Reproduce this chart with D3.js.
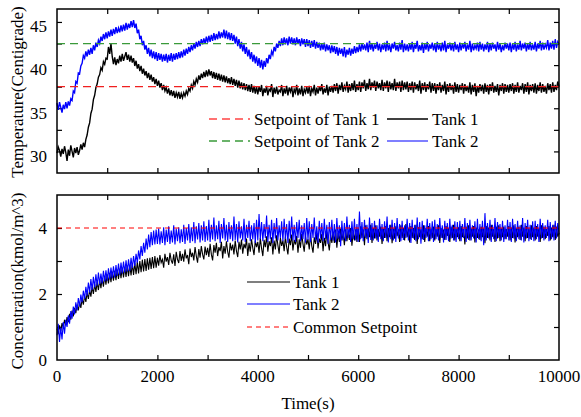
<!DOCTYPE html>
<html>
<head>
<meta charset="utf-8">
<script src="https://cdn.jsdelivr.net/npm/d3@7"></script>
<style>
  body { margin: 0; background: #fff; }
  svg text { font-family: "Liberation Serif", "Times New Roman", Times, serif; }
</style>
</head>
<body>
<div id="chart"></div>
<script>
// sampled every 25 s, 0..10000 (20 samples per row = 500 s)
var time = d3.range(0, 10001, 25);

var tempTank1 = [
  30.3, 31.0, 30.6, 29.9, 30.8, 30.2, 31.1, 30.4, 29.4, 30.7, 30.0, 31.2, 30.5, 29.8, 30.9, 30.3, 31.0, 30.1, 30.6, 31.3,
  30.7, 31.5, 31.0, 31.9, 32.4, 33.3, 33.8, 34.9, 35.4, 36.5, 37.0, 37.9, 38.3, 39.1, 39.4, 40.2, 39.9, 40.9, 40.6, 41.3,
  41.2, 42.6, 41.8, 43.0, 41.5, 40.6, 41.4, 40.5, 41.2, 40.7, 41.6, 40.9, 41.8, 41.0, 41.5, 42.0, 41.1, 41.7, 40.9, 41.6,
  40.8, 41.3, 40.4, 41.0, 40.1, 40.6, 39.8, 40.4, 39.5, 40.1, 39.3, 39.8, 39.0, 39.6, 38.8, 39.4, 38.6, 39.1, 38.3, 38.9,
  38.1, 38.7, 37.9, 38.4, 37.6, 38.2, 37.5, 37.9, 37.2, 37.8, 37.0, 37.6, 36.9, 37.5, 36.7, 37.3, 36.8, 37.4, 36.6, 37.2,
  36.7, 37.3, 36.9, 37.5, 37.1, 37.8, 37.5, 38.2, 37.8, 38.6, 38.2, 38.9, 38.5, 39.3, 38.8, 39.5, 39.0, 39.7, 39.1, 39.9,
  39.2, 40.0, 39.3, 39.8, 39.0, 39.7, 38.9, 39.6, 38.8, 39.5, 38.7, 39.4, 38.6, 39.3, 38.5, 39.2, 38.4, 39.0, 38.3, 39.1,
  38.2, 38.9, 38.1, 38.8, 37.9, 38.7, 37.8, 38.5, 37.7, 38.4, 37.6, 38.3, 37.5, 38.2, 37.4, 38.3, 37.3, 38.1, 37.2, 38.0,
  37.1, 38.0, 37.4, 38.2, 36.9, 37.8, 37.3, 38.1, 37.0, 37.7, 37.5, 38.3, 36.8, 37.9, 37.2, 38.0, 37.1, 37.6, 37.4, 38.2,
  36.9, 37.8, 37.2, 38.1, 37.0, 37.9, 37.4, 38.0, 36.8, 37.7, 37.3, 38.2, 37.0, 37.8, 37.1, 38.1, 36.9, 37.7, 37.3, 38.0,
  37.2, 38.1, 36.9, 37.8, 37.4, 38.2, 37.0, 37.9, 37.2, 38.0, 37.5, 38.3, 37.1, 37.8, 37.3, 38.2, 37.0, 38.0, 37.4, 38.1,
  37.3, 38.3, 37.5, 38.4, 37.2, 38.2, 37.6, 38.5, 37.4, 38.1, 37.7, 38.6, 37.3, 38.3, 37.5, 38.4, 37.6, 38.7, 37.4, 38.3,
  37.6, 38.6, 37.4, 38.5, 37.8, 38.8, 37.5, 38.4, 37.7, 38.9, 37.6, 38.5, 37.9, 38.7, 37.5, 38.6, 37.8, 38.4, 37.6, 38.8,
  37.5, 38.5, 37.8, 38.7, 37.4, 38.6, 37.7, 38.4, 37.6, 38.9, 37.5, 38.5, 37.8, 38.6, 37.4, 38.7, 37.6, 38.5, 37.7, 38.6,
  37.4, 38.4, 37.6, 38.6, 37.3, 38.5, 37.7, 38.3, 37.5, 38.7, 37.2, 38.4, 37.6, 38.5, 37.4, 38.3, 37.7, 38.6, 37.3, 38.4,
  37.5, 38.4, 37.2, 38.3, 37.6, 38.5, 37.3, 38.2, 37.5, 38.6, 37.1, 38.3, 37.4, 38.4, 37.6, 38.2, 37.2, 38.5, 37.4, 38.3,
  37.3, 38.2, 37.6, 38.4, 37.2, 38.3, 37.5, 38.1, 37.3, 38.5, 37.1, 38.2, 37.4, 38.4, 36.9, 38.1, 37.3, 38.3, 37.5, 38.2,
  37.2, 38.4, 37.4, 38.2, 37.1, 38.3, 37.5, 38.5, 37.3, 38.1, 37.4, 38.3, 37.0, 38.2, 37.5, 38.4, 37.2, 38.3, 37.4, 38.2,
  37.3, 38.3, 37.5, 38.4, 37.2, 38.2, 37.4, 38.5, 37.3, 38.1, 37.6, 38.4, 37.2, 38.3, 37.4, 38.5, 37.1, 38.2, 37.5, 38.3,
  37.3, 38.4, 37.2, 38.2, 37.5, 38.5, 37.3, 38.3, 37.4, 38.1, 37.2, 38.4, 37.6, 38.3, 37.3, 38.5, 37.4, 38.2, 37.6, 38.6,
  38.0
];

var tempTank2 = [
  36.1, 35.3, 36.2, 35.6, 35.0, 35.9, 35.4, 36.2, 35.5, 36.3, 35.8, 36.6, 36.4, 37.5, 37.3, 38.6, 38.4, 39.6, 39.5, 40.4,
  40.7, 41.6, 41.3, 42.1, 41.5, 42.3, 41.7, 42.5, 41.8, 42.8, 42.2, 43.1, 42.6, 43.4, 43.0, 43.8, 43.3, 44.1, 43.5, 44.3,
  43.6, 44.4, 43.8, 44.6, 43.9, 44.7, 44.1, 44.9, 44.2, 44.8, 44.3, 45.1, 44.4, 45.2, 44.5, 45.4, 44.6, 45.3, 44.8, 45.6,
  44.9, 45.7, 44.8, 45.3, 44.2, 44.6, 43.5, 43.9, 42.8, 43.3, 42.3, 42.8, 41.8, 42.5, 41.5, 42.3, 41.3, 42.1, 41.2, 42.0,
  41.0, 41.9, 41.1, 41.8, 40.9, 41.7, 41.0, 41.8, 40.8, 41.7, 41.0, 41.9, 40.9, 41.8, 41.1, 41.9, 41.2, 42.0, 41.3, 42.1,
  41.4, 42.3, 41.6, 42.4, 41.8, 42.6, 42.0, 42.8, 42.2, 43.0, 42.4, 43.2, 42.6, 43.3, 42.7, 43.5, 42.9, 43.6, 43.0, 43.8,
  43.1, 43.9, 43.2, 44.0, 43.3, 44.2, 43.4, 44.1, 43.5, 44.4, 43.6, 44.3, 43.7, 44.6, 43.6, 44.5, 43.5, 44.3, 43.4, 44.2,
  43.3, 44.0, 43.0, 43.8, 42.7, 43.5, 42.4, 43.2, 42.1, 42.9, 41.8, 42.6, 41.5, 42.3, 41.2, 42.0, 40.9, 41.7, 40.7, 41.5,
  40.4, 41.3, 40.2, 41.1, 40.0, 41.0, 40.3, 41.3, 40.7, 41.7, 41.2, 42.1, 41.7, 42.6, 42.1, 43.0, 42.5, 43.3, 42.7, 43.6,
  42.8, 43.7, 42.9, 43.6, 42.8, 43.8, 43.0, 43.7, 42.9, 43.6, 42.8, 43.7, 43.0, 43.5, 42.7, 43.6, 42.9, 43.5, 42.6, 43.5,
  42.7, 43.4, 42.5, 43.3, 42.6, 43.4, 42.4, 43.2, 42.5, 43.1, 42.2, 43.0, 42.3, 43.1, 42.1, 42.9, 42.2, 42.8, 41.9, 42.8,
  42.0, 42.7, 41.8, 42.6, 41.6, 42.5, 41.8, 42.4, 41.5, 42.6, 41.4, 42.3, 41.7, 42.5, 41.6, 42.4, 41.8, 42.7, 41.9, 42.6,
  42.0, 42.9, 42.1, 43.0, 42.3, 42.9, 42.2, 43.1, 42.0, 43.3, 42.3, 43.0, 42.1, 42.9, 42.4, 43.2, 42.2, 43.0, 42.0, 42.9,
  42.3, 43.1, 42.1, 43.3, 42.2, 42.9, 42.0, 43.0, 42.4, 43.2, 42.2, 42.8, 42.1, 43.1, 42.3, 43.4, 42.0, 43.0, 42.2, 42.9,
  42.1, 43.0, 42.3, 43.2, 42.0, 42.9, 42.4, 43.3, 42.1, 42.8, 42.2, 43.1, 41.9, 43.0, 42.3, 43.2, 42.1, 42.9, 42.4, 43.1,
  42.2, 43.0, 42.0, 43.2, 42.3, 42.9, 42.1, 43.1, 42.2, 43.3, 42.0, 42.9, 42.4, 43.1, 42.2, 43.0, 42.1, 43.2, 42.3, 42.9,
  42.0, 43.1, 42.2, 43.0, 42.4, 43.2, 42.1, 42.9, 42.3, 43.3, 42.0, 43.0, 42.2, 42.8, 42.4, 43.1, 42.1, 43.2, 42.3, 43.0,
  42.1, 42.9, 42.3, 43.2, 42.0, 43.0, 42.2, 43.1, 42.4, 42.9, 42.1, 43.2, 42.3, 43.0, 42.0, 42.8, 42.2, 43.1, 42.4, 43.0,
  42.2, 43.1, 42.0, 43.0, 42.3, 43.2, 42.1, 42.9, 42.3, 43.3, 42.2, 43.0, 42.4, 43.1, 42.1, 43.0, 42.3, 43.2, 42.2, 42.9,
  42.3, 43.2, 42.1, 43.0, 42.4, 43.3, 42.2, 43.1, 42.3, 42.9, 42.5, 43.4, 42.2, 43.1, 42.4, 43.3, 42.3, 43.5, 42.5, 43.2,
  42.9
];

var concTank1 = [
  0.95, 0.78, 1.05, 0.88, 1.12, 0.98, 1.22, 1.05, 1.30, 1.15, 1.40, 1.22, 1.50, 1.32, 1.58, 1.42, 1.68, 1.50, 1.75, 1.58,
  1.85, 1.68, 1.95, 1.76, 2.04, 1.85, 2.12, 1.92, 2.22, 2.00, 2.30, 2.06, 2.36, 2.12, 2.42, 2.18, 2.48, 2.22, 2.55, 2.28,
  2.60, 2.32, 2.64, 2.36, 2.68, 2.40, 2.70, 2.42, 2.74, 2.46, 2.76, 2.48, 2.80, 2.50, 2.82, 2.52, 2.86, 2.54, 2.88, 2.56,
  2.92, 2.58, 2.94, 2.60, 2.98, 2.62, 3.00, 2.66, 3.04, 2.68, 3.06, 2.70, 3.08, 2.74, 3.10, 2.76, 3.12, 2.78, 3.15, 2.80,
  3.10, 2.86, 3.18, 2.95, 3.05, 2.80, 3.22, 2.98, 3.12, 2.88, 3.25, 3.02, 2.92, 3.20, 2.85, 3.28, 3.05, 2.94, 3.30, 3.00,
  3.22, 2.98, 3.35, 3.08, 3.18, 2.90, 3.38, 3.12, 3.25, 3.02, 3.42, 3.15, 2.95, 3.36, 3.10, 3.45, 3.20, 3.05, 3.44, 3.18,
  3.40, 3.12, 3.52, 3.20, 3.02, 3.48, 3.25, 3.55, 3.15, 3.42, 3.30, 3.58, 3.08, 3.45, 3.22, 3.60, 3.28, 3.10, 3.55, 3.32,
  3.50, 3.20, 3.62, 3.30, 3.12, 3.58, 3.35, 3.65, 3.22, 3.52, 3.38, 3.68, 3.15, 3.55, 3.28, 3.66, 3.40, 3.18, 3.62, 3.42,
  3.58, 3.25, 3.70, 3.38, 3.15, 3.64, 3.42, 3.75, 3.28, 3.60, 3.45, 3.72, 3.20, 3.62, 3.35, 3.78, 3.48, 3.22, 3.70, 3.46,
  3.62, 3.30, 3.74, 3.42, 3.20, 3.68, 3.48, 3.80, 3.32, 3.64, 3.50, 3.76, 3.25, 3.66, 3.40, 3.82, 3.52, 3.28, 3.75, 3.50,
  3.66, 3.35, 3.80, 3.46, 3.25, 3.72, 3.52, 3.85, 3.38, 3.68, 3.55, 3.82, 3.30, 3.70, 3.45, 3.88, 3.56, 3.32, 3.80, 3.55,
  3.88, 3.55, 3.95, 3.40, 3.86, 3.58, 3.98, 3.62, 3.84, 3.48, 3.96, 3.60, 3.90, 3.64, 4.00, 3.46, 3.88, 3.62, 3.96, 3.58,
  3.98, 3.58, 4.05, 3.70, 3.96, 3.48, 4.08, 3.66, 3.99, 3.72, 4.10, 3.55, 4.00, 3.68, 4.08, 3.62, 3.97, 3.74, 4.04, 3.52,
  3.98, 3.70, 4.06, 3.60, 4.00, 3.72, 4.10, 3.54, 3.98, 3.68, 4.05, 3.75, 3.96, 3.58, 4.08, 3.70, 4.00, 3.62, 4.12, 3.72,
  3.99, 3.56, 4.06, 3.70, 4.00, 3.64, 4.10, 3.52, 4.02, 3.72, 3.96, 3.66, 4.08, 3.58, 4.00, 3.74, 4.06, 3.60, 3.98, 3.70,
  4.04, 3.62, 3.97, 3.74, 4.08, 3.55, 4.00, 3.70, 3.95, 3.64, 4.06, 3.76, 3.99, 3.58, 4.04, 3.70, 4.10, 3.62, 3.98, 3.72,
  4.02, 3.60, 4.06, 3.72, 3.97, 3.50, 4.04, 3.68, 4.08, 3.62, 3.99, 3.74, 4.06, 3.56, 4.01, 3.70, 3.96, 3.64, 4.04, 3.72,
  3.99, 3.54, 4.06, 3.70, 4.01, 3.62, 4.10, 3.74, 3.97, 3.58, 4.04, 3.68, 4.08, 3.60, 3.99, 3.72, 4.04, 3.66, 3.97, 3.74,
  4.06, 3.62, 4.01, 3.70, 4.08, 3.56, 3.99, 3.72, 4.04, 3.64, 4.10, 3.74, 4.01, 3.60, 4.06, 3.70, 3.99, 3.66, 4.08, 3.72,
  4.01, 3.62, 4.06, 3.74, 3.99, 3.58, 4.08, 3.70, 4.04, 3.66, 3.97, 3.76, 4.06, 3.62, 4.01, 3.72, 4.10, 3.64, 4.04, 3.74,
  3.85
];

var concTank2 = [
  0.75, 1.10, 0.55, 0.98, 0.62, 1.15, 0.80, 1.22, 1.00, 1.35, 1.10, 1.48, 1.25, 1.62, 1.38, 1.75, 1.50, 1.88, 1.62, 1.98,
  1.75, 2.10, 1.85, 2.22, 1.95, 2.35, 2.05, 2.45, 2.12, 2.52, 2.20, 2.60, 2.25, 2.65, 2.30, 2.62, 2.32, 2.70, 2.38, 2.72,
  2.40, 2.78, 2.44, 2.80, 2.48, 2.84, 2.50, 2.88, 2.55, 2.92, 2.58, 2.95, 2.62, 2.98, 2.65, 3.02, 2.68, 3.05, 2.70, 3.10,
  2.78, 3.15, 2.85, 3.22, 2.95, 3.32, 3.05, 3.45, 3.15, 3.55, 3.25, 3.68, 3.35, 3.80, 3.42, 3.88, 3.48, 3.92, 3.50, 3.95,
  3.52, 3.98, 3.50, 3.90, 3.55, 4.02, 3.48, 3.95, 3.58, 4.05, 3.52, 3.92, 3.56, 4.08, 3.50, 3.98, 3.60, 4.02, 3.54, 3.96,
  3.58, 4.10, 3.52, 4.00, 3.62, 4.12, 3.55, 4.02, 3.60, 4.18, 3.54, 4.05, 3.65, 4.15, 3.56, 4.08, 3.62, 4.20, 3.58, 4.06,
  3.62, 4.25, 3.58, 4.10, 3.65, 4.32, 3.60, 4.08, 3.66, 4.22, 3.55, 4.12, 3.68, 4.30, 3.62, 4.10, 3.58, 4.18, 3.66, 4.08,
  3.60, 4.35, 3.64, 4.12, 3.56, 4.20, 3.68, 4.05, 3.62, 4.28, 3.58, 4.10, 3.70, 4.22, 3.60, 4.08, 3.65, 4.15, 3.55, 4.25,
  3.62, 4.42, 3.66, 4.18, 3.60, 4.12, 3.70, 4.38, 3.58, 4.10, 3.66, 4.25, 3.55, 4.15, 3.68, 4.30, 3.62, 4.08, 3.70, 4.20,
  3.60, 4.28, 3.66, 4.12, 3.55, 4.22, 3.68, 4.35, 3.62, 4.10, 3.58, 4.18, 3.70, 4.25, 3.60, 4.08, 3.66, 4.15, 3.56, 4.30,
  3.64, 4.20, 3.58, 4.12, 3.70, 4.32, 3.62, 4.05, 3.55, 4.22, 3.68, 4.15, 3.60, 4.28, 3.66, 4.10, 3.52, 4.18, 3.64, 4.25,
  3.62, 4.12, 3.56, 4.30, 3.68, 4.08, 3.45, 4.22, 3.64, 4.15, 3.60, 4.35, 3.70, 4.10, 3.58, 4.20, 3.66, 4.28, 3.62, 4.12,
  3.58, 4.50, 3.66, 4.18, 3.60, 4.25, 3.70, 4.10, 3.55, 4.32, 3.64, 4.15, 3.62, 4.22, 3.68, 4.08, 3.58, 4.28, 3.66, 4.12,
  3.60, 4.20, 3.70, 4.35, 3.56, 4.10, 3.66, 4.25, 3.62, 4.15, 3.58, 4.30, 3.68, 4.12, 3.60, 4.22, 3.64, 4.08, 3.70, 4.28,
  3.62, 4.15, 3.55, 4.25, 3.68, 4.10, 3.60, 4.32, 3.66, 4.18, 3.52, 4.22, 3.64, 4.08, 3.70, 4.28, 3.60, 4.15, 3.66, 4.20,
  3.58, 4.25, 3.66, 4.12, 3.62, 4.30, 3.70, 4.08, 3.56, 4.22, 3.64, 4.15, 3.60, 4.28, 3.68, 4.10, 3.62, 4.20, 3.58, 4.18,
  3.66, 4.22, 3.60, 4.12, 3.70, 4.30, 3.58, 4.15, 3.64, 4.25, 3.62, 4.08, 3.68, 4.20, 3.56, 4.28, 3.66, 4.12, 3.60, 4.22,
  3.48, 4.45, 3.62, 4.15, 3.68, 4.25, 3.58, 4.10, 3.66, 4.30, 3.60, 4.18, 3.70, 4.12, 3.62, 4.22, 3.58, 4.08, 3.66, 4.25,
  3.62, 4.18, 3.58, 4.28, 3.68, 4.12, 3.60, 4.22, 3.66, 4.08, 3.62, 4.30, 3.56, 4.15, 3.68, 4.25, 3.60, 4.10, 3.64, 4.20,
  3.60, 4.22, 3.66, 4.12, 3.58, 4.28, 3.68, 4.15, 3.62, 4.08, 3.70, 4.25, 3.60, 4.18, 3.66, 4.10, 3.62, 4.22, 3.68, 4.15,
  3.80
];

var setpointTank1 = 38,
    setpointTank2 = 43,
    setpointConc = 4;

var xTicks = [0, 2000, 4000, 6000, 8000, 10000];
var tempTicks = [30, 35, 40, 45];
var concTicks = [0, 2, 4];

var width = 581,
    height = 417,
    left = 57,
    right = 559,
    fs = 17;

var svg = d3.select("#chart").append("svg")
    .attr("width", width)
    .attr("height", height);

var x = d3.scaleLinear().domain([0, 10000]).range([left, right]);

var yTemp = d3.scaleLinear().domain([28, 47]).range([173, 9]);
var yConc = d3.scaleLinear().domain([0, 5]).range([360, 195]);

function series(vals) {
    return vals.map(function(v, i) { return [time[i], v]; })
        .filter(function(d) { return d[0] !== undefined; });
}

// one panel's ticks: inward on all four sides, labels on the left
function frame(y, minorStep, majorTicks) {
    var g = svg.append("g");
    var yr = y.range();
    var lo = y.domain()[0], hi = y.domain()[1];
    var minorY = d3.range(lo, hi + 0.001, minorStep)
        .filter(function(v) { return Math.abs(v - lo) > 0.01 && Math.abs(v - hi) > 0.01; });
    g.append("g").attr("transform", "translate(" + left + ",0)")
        .call(d3.axisLeft(y).tickValues(minorY).tickSize(-5).tickFormat(""));
    g.append("g").attr("transform", "translate(" + right + ",0)")
        .call(d3.axisRight(y).tickValues(minorY).tickSize(-5).tickFormat(""));
    var xMinor = d3.range(1000, 10000, 1000);
    g.append("g").attr("transform", "translate(0," + yr[0] + ")")
        .call(d3.axisBottom(x).tickValues(xMinor).tickSize(-5).tickFormat(""));
    g.append("g").attr("transform", "translate(0," + yr[1] + ")")
        .call(d3.axisTop(x).tickValues(xMinor).tickSize(-5).tickFormat(""));
    g.selectAll(".domain").remove();
    g.selectAll(".tick line").attr("stroke", "#000").attr("stroke-width", 1.2);
    g.selectAll(null).data(majorTicks).enter().append("text")
        .attr("x", left - 10)
        .attr("y", function(d) { return y(d) + 6; })
        .attr("text-anchor", "end")
        .attr("font-size", fs)
        .text(function(d) { return d; });
}

function border(y) {
    var yr = y.range();
    svg.append("rect")
        .attr("x", left).attr("y", yr[1])
        .attr("width", right - left).attr("height", yr[0] - yr[1])
        .attr("fill", "none").attr("stroke", "#000").attr("stroke-width", 1.5);
}

var lineTemp = d3.line()
    .x(function(d) { return x(d[0]); })
    .y(function(d) { return yTemp(d[1]); });
var lineConc = d3.line()
    .x(function(d) { return x(d[0]); })
    .y(function(d) { return yConc(d[1]); });

// ----- top panel: temperature
frame(yTemp, 2.5, tempTicks);

svg.append("path")
    .datum(series(tempTank2))
    .attr("d", lineTemp)
    .attr("fill", "none").attr("stroke", "#0000ff").attr("stroke-width", 1.4);

svg.append("path")
    .datum(series(tempTank1))
    .attr("d", lineTemp)
    .attr("fill", "none").attr("stroke", "#000").attr("stroke-width", 1.4);

// setpoints drawn over the data, as in the original
svg.append("line")
    .attr("x1", x(0)).attr("x2", x(10000))
    .attr("y1", yTemp(setpointTank2)).attr("y2", yTemp(setpointTank2))
    .attr("stroke", "#3a9a3a").attr("stroke-width", 1.3)
    .attr("stroke-dasharray", "8,5");

svg.append("line")
    .attr("x1", x(0)).attr("x2", x(10000))
    .attr("y1", yTemp(setpointTank1)).attr("y2", yTemp(setpointTank1))
    .attr("stroke", "#f02020").attr("stroke-width", 1.3)
    .attr("stroke-dasharray", "8,5");

border(yTemp);

var legTop = [
    {label: "Setpoint of Tank 1", color: "#ff4444", dash: "8,5", x: 209, y: 119},
    {label: "Setpoint of Tank 2", color: "#3a9a3a", dash: "8,5", x: 209, y: 141},
    {label: "Tank 1", color: "#000", dash: null, x: 387, y: 119},
    {label: "Tank 2", color: "#5555ff", dash: null, x: 387, y: 141}
];
var lt = svg.append("g");
lt.selectAll("line").data(legTop).enter().append("line")
    .attr("x1", function(d) { return d.x; })
    .attr("x2", function(d) { return d.x + 41; })
    .attr("y1", function(d) { return d.y; })
    .attr("y2", function(d) { return d.y; })
    .attr("stroke", function(d) { return d.color; })
    .attr("stroke-width", 1.3)
    .attr("stroke-dasharray", function(d) { return d.dash; });
lt.selectAll("text").data(legTop).enter().append("text")
    .attr("x", function(d) { return d.x + 45; })
    .attr("y", function(d) { return d.y + 6; })
    .attr("font-size", fs)
    .text(function(d) { return d.label; });

svg.append("text")
    .attr("transform", "translate(23,92) rotate(-90)")
    .attr("text-anchor", "middle")
    .attr("font-size", fs)
    .text("Temperature(Centigrade)");

// ----- bottom panel: concentration
frame(yConc, 1, concTicks);

svg.append("path")
    .datum(series(concTank1))
    .attr("d", lineConc)
    .attr("fill", "none").attr("stroke", "#000").attr("stroke-width", 1.1);

svg.append("path")
    .datum(series(concTank2))
    .attr("d", lineConc)
    .attr("fill", "none").attr("stroke", "#0000ff").attr("stroke-width", 1.1);

svg.append("line")
    .attr("x1", x(0)).attr("x2", x(10000))
    .attr("y1", yConc(setpointConc)).attr("y2", yConc(setpointConc))
    .attr("stroke", "#ff0000").attr("stroke-width", 1)
    .attr("stroke-dasharray", "5,4");

border(yConc);

var legBot = [
    {label: "Tank 1", color: "#000", dash: null, y: 282},
    {label: "Tank 2", color: "#0000ff", dash: null, y: 304},
    {label: "Common Setpoint", color: "#ff0000", dash: "5,4", y: 327}
];
var lb = svg.append("g");
lb.selectAll("line").data(legBot).enter().append("line")
    .attr("x1", 247).attr("x2", 290)
    .attr("y1", function(d) { return d.y; })
    .attr("y2", function(d) { return d.y; })
    .attr("stroke", function(d) { return d.color; })
    .attr("stroke-width", 1.2)
    .attr("stroke-dasharray", function(d) { return d.dash; });
lb.selectAll("text").data(legBot).enter().append("text")
    .attr("x", 293)
    .attr("y", function(d) { return d.y + 6; })
    .attr("font-size", fs)
    .text(function(d) { return d.label; });

svg.selectAll(".xlab").data(xTicks).enter().append("text")
    .attr("class", "xlab")
    .attr("x", function(d) { return x(d); })
    .attr("y", 382)
    .attr("text-anchor", "middle")
    .attr("font-size", fs)
    .text(function(d) { return d; });

svg.append("text")
    .attr("x", (left + right) / 2)
    .attr("y", 409)
    .attr("text-anchor", "middle")
    .attr("font-size", fs)
    .text("Time(s)");

svg.append("text")
    .attr("transform", "translate(23,281) rotate(-90)")
    .attr("text-anchor", "middle")
    .attr("font-size", fs)
    .text("Concentration(kmol/m^3)");
</script>
</body>
</html>
